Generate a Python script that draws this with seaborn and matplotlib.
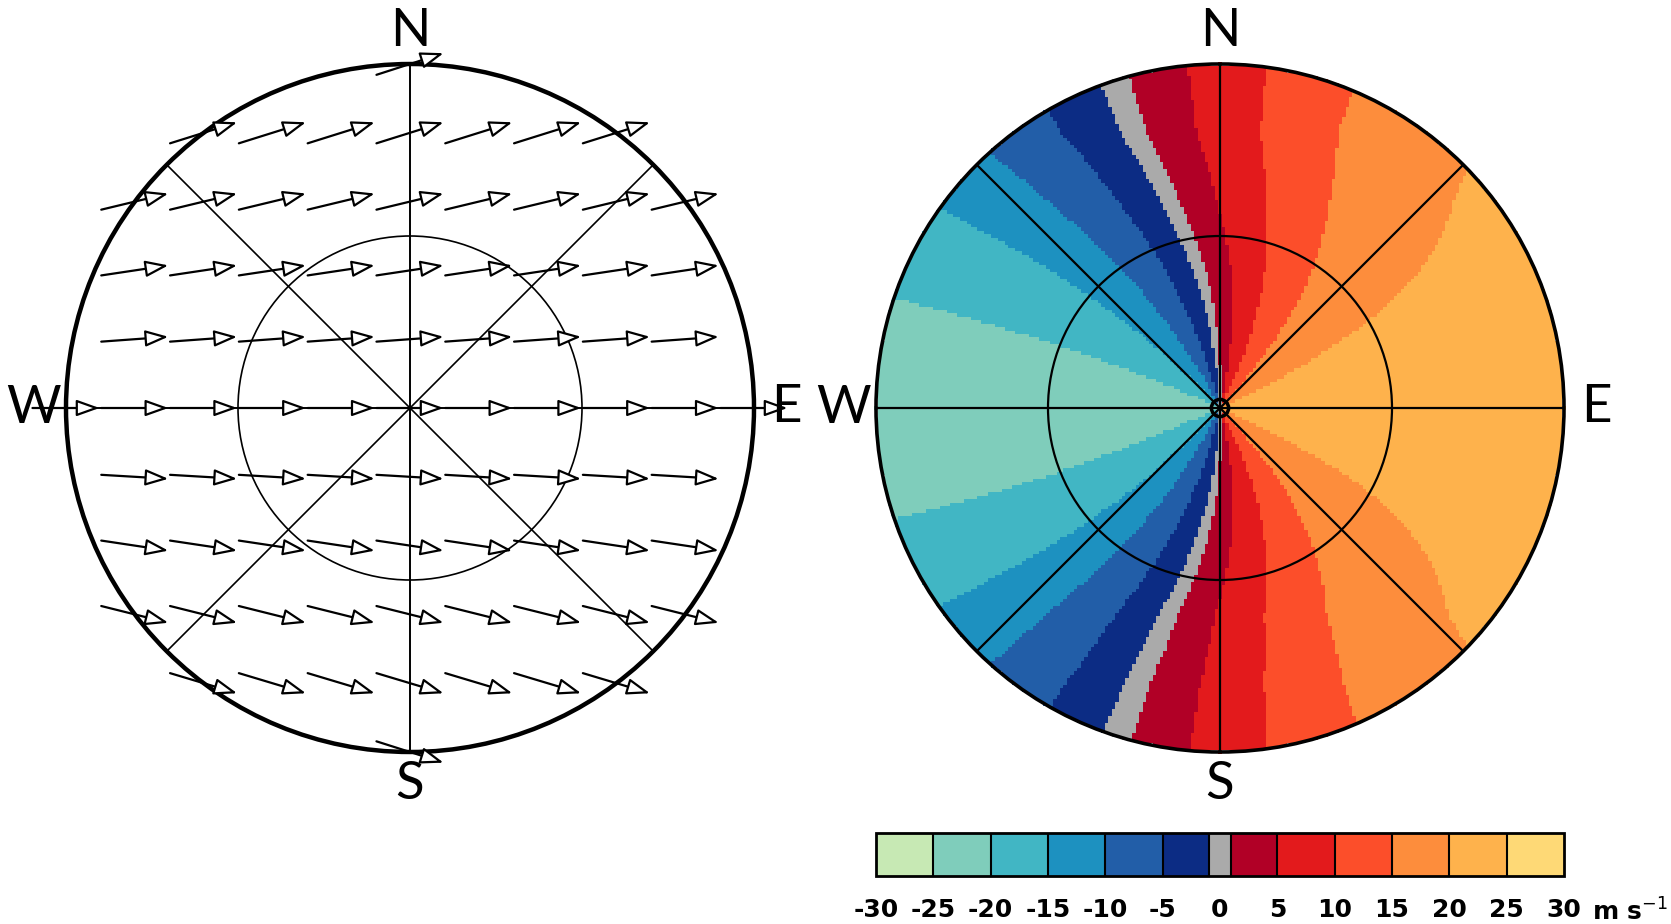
import numpy as np
import matplotlib
matplotlib.use("Agg")
import matplotlib.pyplot as plt
import seaborn as sns
from matplotlib.colors import ListedColormap, BoundaryNorm
from matplotlib.patches import Circle

# ---------------- data ----------------
# wind-vector grid (in units of the maximum radar range)
grid_x = [-1.0, -0.8, -0.6, -0.4, -0.2, 0.0, 0.2, 0.4, 0.6, 0.8, 1.0]
grid_y = [-1.0, -0.8, -0.6, -0.4, -0.2, 0.0, 0.2, 0.4, 0.6, 0.8, 1.0]
# north-south wind component of each row (m/s), bottom row first
row_v = [-7.0, -6.6, -5.5, -3.3, -1.3, 0.0, 1.6, 3.3, 5.3, 6.9, 7.1]
# west-east wind component (m/s), same for all rows
u_wind = 22.0

# radial velocity classes and colours
vel_levels = [-30, -25, -20, -15, -10, -5, -1, 1, 5, 10, 15, 20, 25, 30]
vel_colors = ["#c7e9b4", "#7fcdbb", "#41b6c4", "#1d91c0", "#225ea8", "#0c2c84",
              "#aaaaaa", "#b10026", "#e31a1c", "#fc4e2a", "#fd8d3c", "#feb24c", "#fed976"]
tick_values = [-30, -25, -20, -15, -10, -5, 0, 5, 10, 15, 20, 25, 30]
tick_labels = ["-30", "-25", "-20", "-15", "-10", "-5", "0", "5", "10", "15", "20", "25", "30"]
unit_label = "m s$^{-1}$"

compass_labels = ["N", "E", "S", "W"]
compass_az = [0, 90, 180, 270]
range_rings = [0.5, 1.0]
spoke_az = [0, 45, 90, 135]

# ---------------- style ----------------
sns.set_theme(style="white")
plt.rcParams["font.family"] = ["Lato", "DejaVu Sans"]
plt.rcParams["axes.unicode_minus"] = False
plt.rcParams["text.color"] = "black"

W, H = 1671, 924
fig = plt.figure(figsize=(W / 100, H / 100), dpi=100)

R_PX = 344.0           # radius of the display circle in pixels
HALF = 400.0           # half size of each panel axes in pixels
lim = HALF / R_PX


def panel(cx, cy):
    ax = fig.add_axes([(cx - HALF) / W, (H - cy - HALF) / H, 2 * HALF / W, 2 * HALF / H])
    ax.set_xlim(-lim, lim)
    ax.set_ylim(-lim, lim)
    ax.set_aspect("equal")
    ax.axis("off")
    return ax


ax1 = panel(410, 408)
ax2 = panel(1220, 408)

# ---------------- left: wind vectors ----------------
arrow_scale = 0.195 / u_wind
for j, yv in enumerate(grid_y):
    for xv in grid_x:
        if xv ** 2 + yv ** 2 > 1.0 + 1e-9:
            continue
        du = u_wind * arrow_scale
        dv = row_v[j] * arrow_scale
        ax1.annotate("", xy=(xv + du / 2, yv + dv / 2), xytext=(xv - du / 2, yv - dv / 2),
                     arrowprops=dict(arrowstyle="-|>,head_length=1.4,head_width=0.5",
                                     fc="white", ec="black", lw=1.6,
                                     shrinkA=0, shrinkB=0, mutation_scale=10),
                     annotation_clip=False, zorder=4)

ax1.add_patch(Circle((0, 0), range_rings[0], fill=False, ec="black", lw=1.2, zorder=3))
ax1.add_patch(Circle((0, 0), range_rings[1], fill=False, ec="black", lw=3.2, zorder=3))
for az in spoke_az:
    a = np.deg2rad(az)
    ax1.plot([-np.sin(a), np.sin(a)], [-np.cos(a), np.cos(a)], color="black",
             lw=1.2 if az % 90 else 1.4, zorder=3)

# ---------------- right: radial velocity ----------------
xs = np.linspace(-1, 1, 201)
X, Y = np.meshgrid(xs, xs)
RR = np.hypot(X, Y)
Vn = np.interp(Y, grid_y, row_v)
Vr = (u_wind * X + Vn * Y) / np.where(RR == 0, 1, RR)
Vr = np.ma.masked_where(RR > 1.0, Vr)

cmap = ListedColormap(sns.color_palette(vel_colors))
norm = BoundaryNorm(vel_levels, cmap.N)
mesh = ax2.pcolormesh(X, Y, Vr, cmap=cmap, norm=norm, shading="nearest", zorder=1)

ax2.add_patch(Circle((0, 0), range_rings[0], fill=False, ec="black", lw=1.6, zorder=3))
ax2.add_patch(Circle((0, 0), range_rings[1], fill=False, ec="black", lw=2.6, zorder=3))
ax2.add_patch(Circle((0, 0), 0.025, fill=False, ec="black", lw=2.5, zorder=3))
for az in spoke_az:
    a = np.deg2rad(az)
    ax2.plot([-np.sin(a), np.sin(a)], [-np.cos(a), np.cos(a)], color="black", lw=1.6, zorder=3)

# compass letters
for ax in (ax1, ax2):
    for lab, az in zip(compass_labels, compass_az):
        a = np.deg2rad(az)
        ax.text(1.095 * np.sin(a), 1.095 * np.cos(a), lab, ha="center", va="center",
                fontsize=38, fontweight="normal", color="black", clip_on=False, zorder=5)

# ---------------- colour bar ----------------
cax = fig.add_axes([876 / W, (H - 876) / H, 688 / W, 43 / H])
cb = fig.colorbar(mesh, cax=cax, orientation="horizontal", spacing="proportional",
                  drawedges=True, ticks=tick_values)
cb.set_ticklabels(tick_labels)
cax.minorticks_off()
cb.outline.set_linewidth(2.0)
cb.outline.set_edgecolor("black")
cb.dividers.set_linewidth(1.5)
cb.dividers.set_color("black")
cax.tick_params(axis="x", which="both", length=0, pad=16, labelsize=18, colors="black")
for t in cax.get_xticklabels():
    t.set_fontweight("bold")
    t.set_family(["DejaVu Sans"])
cax.annotate(unit_label, xy=(1.04, 0), xycoords="axes fraction", xytext=(0, -16),
             textcoords="offset points", ha="left", va="top", fontsize=18,
             fontweight="bold", family=["DejaVu Sans"], annotation_clip=False)

fig.savefig("out.png", dpi=100)
